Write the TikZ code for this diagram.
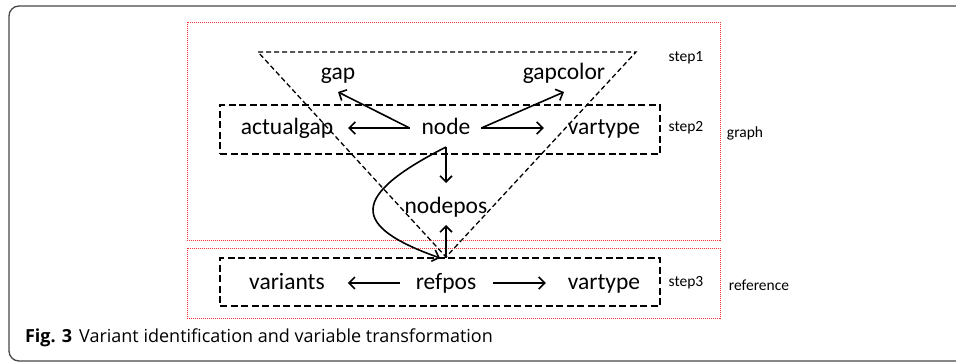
\documentclass[tikz,border=0pt]{standalone}
\usepackage{fontspec}
\setmainfont{Carlito}
\newfontfamily\capfont{Open Sans}
\usetikzlibrary{arrows.meta,positioning,calc}

\begin{document}
\begin{tikzpicture}[x=1pt, y=-1pt,
    every node/.style={inner sep=0pt, outer sep=0pt},
    lbl/.style={font=\fontsize{23.5}{28}\selectfont, text height=17pt, text depth=5pt},
    tag/.style={font=\fontsize{15.5}{18}\selectfont},
    stepbox/.style={draw, line width=2.2pt, dash pattern=on 7pt off 3.5pt},
    redbox/.style={draw=red!80, densely dotted, line width=1pt},
    arr/.style={-{Straight Barb[length=6pt,width=12pt]}, line width=1.6pt}]
    \useasboundingbox (0,0) rectangle (956,362);

    % Outer frame
    \draw[gray!55!black, line width=1.3pt, rounded corners=10pt] (9,6) rectangle (990,361);

    % Red dotted areas
    \draw[redbox] (187,22) rectangle (720,240);
    \draw[redbox] (187,248) rectangle (720,318);

    % Step boxes
    \node[stepbox, minimum width=440pt, minimum height=49pt] (box2) at (440,129.5) {};
    \node[stepbox, minimum width=440pt, minimum height=48pt] (box3) at (440,282) {};

    % Triangle of step1
    \draw[line width=1.3pt, dash pattern=on 5pt off 3pt] (258,52) -- (636,52) -- (446,257) -- cycle;

    % Graph labels
    \node[lbl] (gap) at (338,73) {gap};
    \node[lbl] (gapcol) at (564,73) {gapcolor};
    \node[lbl] (actgap) at (287,128) {actualgap};
    \node[lbl] (nd) at (446,128) {node};
    \node[lbl] (vtype) at (604,128) {vartype};
    \node[lbl] (npos) at (446,207) {nodepos};

    % Reference labels
    \node[lbl] (vars) at (287,283) {variants};
    \node[lbl] (refpos) at (446,283) {refpos};
    \node[lbl] (vtypeB) at (604,283) {vartype};

    % Step and area names
    \node[tag] (s1) at (686,58) {step1};
    \node[tag] (s2) at (686,128) {step2};
    \node[tag] (s3) at (686,283) {step3};
    \node[tag] (graph) at (745,133) {graph};
    \node[tag] (refer) at (759,285) {reference};

    % Arrows from node
    \draw[arr] ([xshift=-12pt]nd.west) -- ([yshift=-8pt]gap.south);
    \draw[arr] ([xshift=-12pt]nd.west) -- ([xshift=15pt]actgap.east);
    \draw[arr] ([xshift=11pt]nd.east) -- ([yshift=-8pt]gapcol.south);
    \draw[arr] ([xshift=11pt]nd.east) -- ([xshift=-24pt]vtype.west);
    \draw[arr] ([yshift=-8pt]nd.south) -- ([yshift=13pt]npos.north);
    \draw[arr] ([yshift=-8pt]nd.south) .. controls (350,196) and (350,226) .. (box3.north);
    \draw[arr, {Straight Barb[length=6pt,width=12pt]}-] ([yshift=-7pt]npos.south) -- (npos |- box3.north);

    % Arrows from refpos
    \draw[arr] ([xshift=-16pt]refpos.west) -- ([xshift=23pt]vars.east);
    \draw[arr] ([xshift=17pt]refpos.east) -- ([xshift=-22pt]vtypeB.west);

    % Caption
    \node[anchor=base west, font=\capfont\fontsize{18}{21}\selectfont] (cap) at (25,342)
        {\textbf{Fig. 3}\hspace{7pt}Variant identification and variable transformation};
\end{tikzpicture}
\end{document}
